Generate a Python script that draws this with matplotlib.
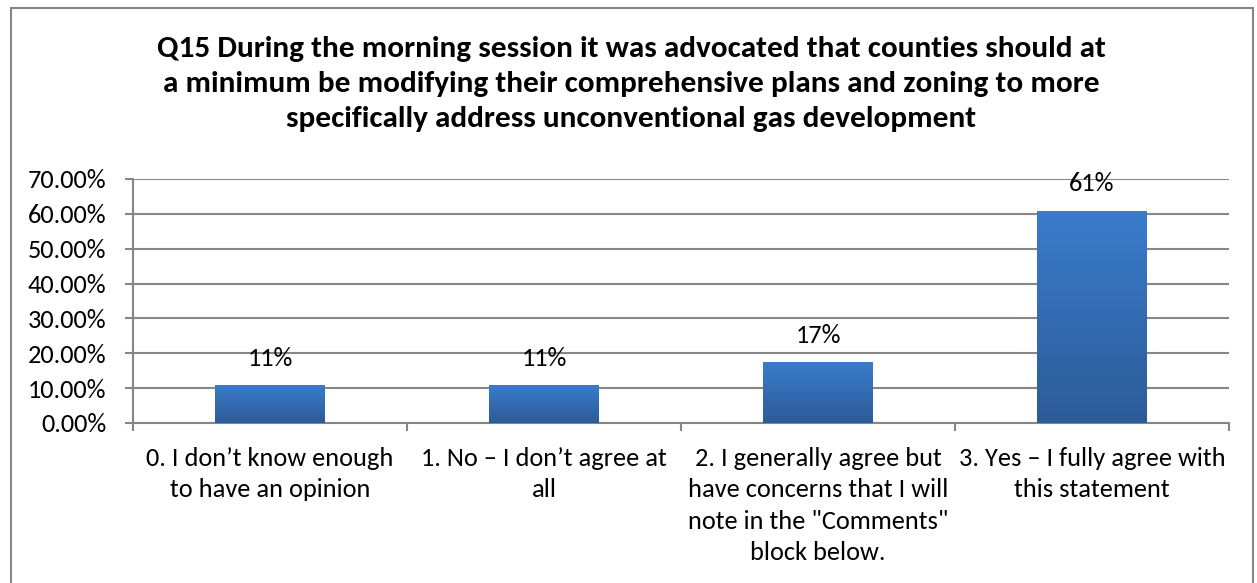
import matplotlib as mpl
import matplotlib.pyplot as plt
from matplotlib.patches import Rectangle
from matplotlib.ticker import FuncFormatter, FixedLocator
from matplotlib.colors import LinearSegmentedColormap
import numpy as np

mpl.rcParams['font.family'] = ['Carlito', 'Liberation Sans Narrow', 'Liberation Sans', 'DejaVu Sans']

# survey answers (share of respondents)
categories = [
    "0. I don\u2019t know enough\nto have an opinion",
    "1. No \u2013 I don\u2019t agree at\nall",
    "2. I generally agree but\nhave concerns that I will\nnote in the \"Comments\"\nblock below.",
    "3. Yes \u2013 I fully agree with\nthis statement",
]
shares = [0.1087, 0.1087, 0.1739, 0.6087]
labels = ["11%", "11%", "17%", "61%"]

title = ("Q15 During the morning session it was advocated that counties should at\n"
         "a minimum be modifying their comprehensive plans and zoning to more\n"
         "specifically address unconventional gas development")

grid_col = "#868686"
bar_grad = LinearSegmentedColormap.from_list("bar", ["#2d5b98", "#3a7ccb"])

fig = plt.figure(figsize=(12.57, 5.83), dpi=100)
W, H = 1257, 583

# chart frame
fig.patches.append(Rectangle((11 / W, -0.1), (1253 - 11) / W, 1.1 - 8 / H,
                             transform=fig.transFigure, fill=False,
                             edgecolor=grid_col, linewidth=1.5))

fig.text(631 / W, 1 - 84 / H, title, ha="center", va="center",
         fontsize=22.5, fontweight="bold", linespacing=1.42)

ax = fig.add_axes([133 / W, 1 - 423 / H, (1229 - 133) / W, (423 - 179) / H])

x = np.arange(len(categories))
bars = ax.bar(x, shares, width=0.4, color="#3a7ccb", zorder=3)

# vertical gradient in each bar
grad = np.linspace(0, 1, 256).reshape(-1, 1)
for b in bars:
    x0, y0 = b.get_x(), b.get_y()
    w, h = b.get_width(), b.get_height()
    im = ax.imshow(grad, cmap=bar_grad, aspect="auto", origin="lower",
                   extent=(x0, x0 + w, y0, y0 + h), zorder=4)
    im.set_clip_path(b)

for xi, v, lab in zip(x, shares, labels):
    ax.annotate(lab, (xi, v), xytext=(0, 19.5), textcoords="offset points",
                ha="center", va="center", fontsize=19)

ax.set_xlim(-0.5, len(categories) - 0.5)
ax.set_ylim(0, 0.7)
ax.set_yticks(np.arange(0, 0.71, 0.1))
ax.yaxis.set_major_formatter(FuncFormatter(lambda v, p: "{:.2f}%".format(v * 100)))
ax.yaxis.grid(True, color=grid_col, linewidth=1.5, zorder=0)

ax.xaxis.set_major_locator(FixedLocator(np.arange(-0.5, len(categories), 1.0)))
ax.xaxis.set_major_formatter(FuncFormatter(lambda v, p: ""))
ax.xaxis.set_minor_locator(FixedLocator(x))
ax.set_xticklabels(categories, minor=True, fontsize=19, linespacing=1.45, va="top")
ax.tick_params(axis="x", which="minor", length=0, pad=17)
ax.tick_params(axis="x", which="major", length=6, width=1.5, color=grid_col)
ax.tick_params(axis="y", length=6, width=1.5, color=grid_col, labelsize=19, pad=13)

for s in ["top", "right"]:
    ax.spines[s].set_visible(False)
for s in ["left", "bottom"]:
    ax.spines[s].set_color(grid_col)
    ax.spines[s].set_linewidth(1.5)

fig.savefig("out.png", dpi=100)
